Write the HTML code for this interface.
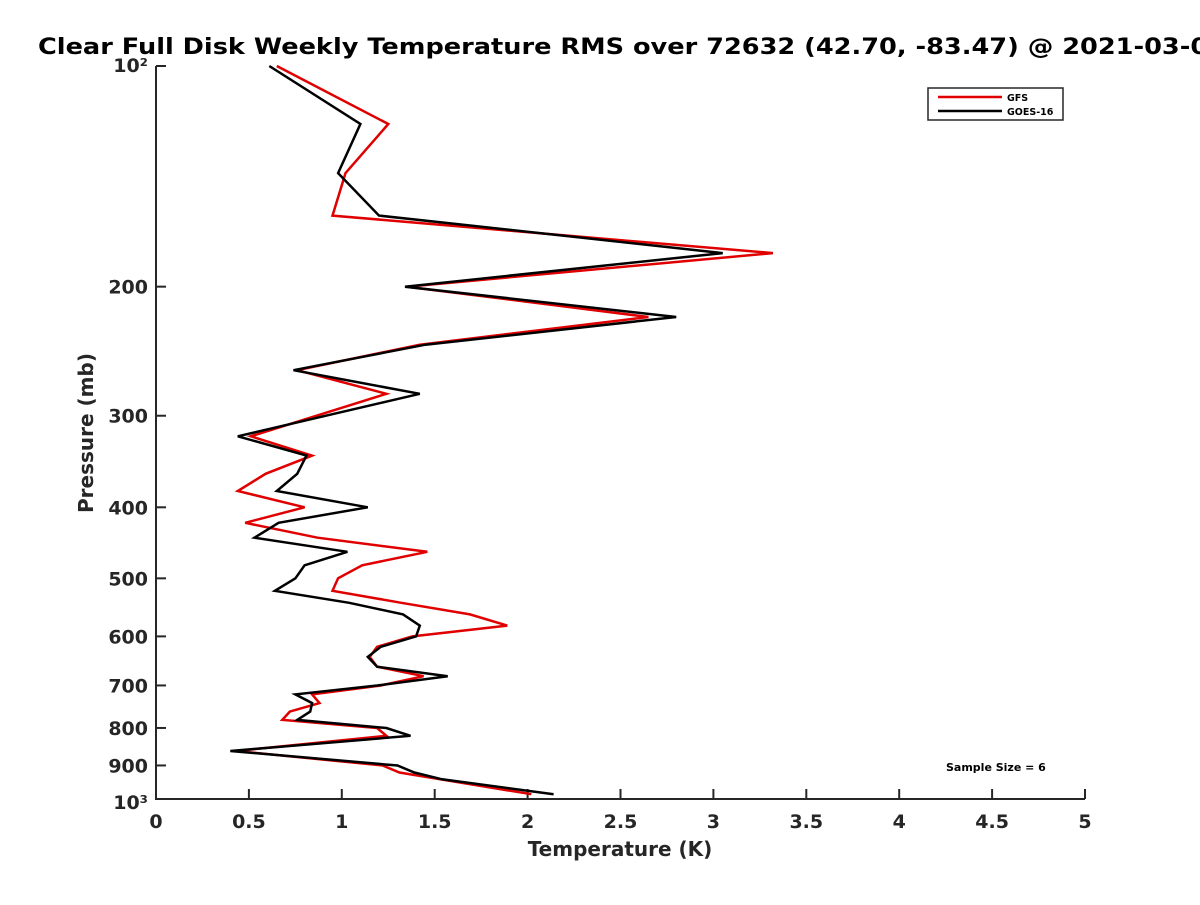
<!DOCTYPE html>
<html><head><meta charset="utf-8"><style>
body{margin:0;background:#fff;}
svg text{font-family:"DejaVu Sans","Liberation Sans",sans-serif;font-weight:bold;fill:#262626;}
</style></head><body>
<svg id="chart" width="1200" height="900" xmlns="http://www.w3.org/2000/svg">
<rect width="1200" height="900" fill="#fff"/>
<text x="38" y="54" font-size="22" textLength="1188" lengthAdjust="spacingAndGlyphs" style="fill:#000">Clear Full Disk Weekly Temperature RMS over 72632 (42.70, -83.47) @ 2021-03-02</text>
<g id="axes"></g>
<g id="series"></g>
<g>
<rect x="928" y="88" width="135" height="32" fill="#fff" stroke="#262626" stroke-width="1.5"/>
<line x1="938" y1="97" x2="1002" y2="97" stroke="#e00000" stroke-width="2.5"/>
<text x="1007" y="101" font-size="9.5" style="fill:#000">GFS</text>
<line x1="938" y1="111" x2="1002" y2="111" stroke="#000" stroke-width="2.5"/>
<text x="1007" y="115" font-size="9.5" style="fill:#000">GOES-16</text>
</g>
<text x="946" y="771" font-size="11" style="fill:#000">Sample Size = 6</text>
<text x="620" y="856" font-size="20" text-anchor="middle">Temperature (K)</text>
<text transform="translate(93,433) rotate(-90)" font-size="20" text-anchor="middle">Pressure (mb)</text>
</svg>
<script>
const pressures = [100,120,140,160,180,200,220,240,260,280,320,340,360,380,400,420,440,460,480,500,520,540,560,580,600,620,640,660,680,700,720,740,760,780,800,820,860,900,920,940,985];
const gfsTemps = [0.65,1.25,1.02,0.95,3.32,1.35,2.65,1.42,0.76,1.24,0.51,0.84,0.59,0.44,0.80,0.48,0.87,1.46,1.11,0.98,0.95,1.32,1.69,1.89,1.38,1.19,1.15,1.19,1.44,1.21,0.84,0.88,0.72,0.68,1.19,1.24,0.43,1.22,1.31,1.53,2.02];
const goesTemps = [0.61,1.10,0.98,1.20,3.05,1.34,2.80,1.45,0.74,1.42,0.44,0.81,0.76,0.65,1.14,0.66,0.53,1.03,0.80,0.75,0.64,1.04,1.33,1.42,1.40,1.21,1.14,1.19,1.57,1.19,0.75,0.84,0.83,0.76,1.24,1.37,0.40,1.30,1.39,1.54,2.14];
const xTicks = [0,0.5,1,1.5,2,2.5,3,3.5,4,4.5,5];
const xTickLabels = ["0","0.5","1","1.5","2","2.5","3","3.5","4","4.5","5"];
const yTicks = [100,200,300,400,500,600,700,800,900,1000];
const yTickLabels = ["10²","200","300","400","500","600","700","800","900","10³"];

const NS="http://www.w3.org/2000/svg";
const X0=156,X1=1085,Y0=66,Y1=799;
const xs=v=>X0+(v-0)/(5-0)*(X1-X0);
const ys=p=>Y0+(Math.log10(p)-2)*(Y1-Y0);
function mk(tag,attrs,parent){const e=document.createElementNS(NS,tag);for(const k in attrs)e.setAttribute(k,attrs[k]);parent.appendChild(e);return e;}
const axes=document.getElementById('axes');
const ax=mk('path',{d:`M${X0},${Y0}V${Y1}H${X1}`,fill:'none',stroke:'#262626','stroke-width':2},axes);


xTicks.forEach((t,i)=>{
  const x=xs(t);
  const l=mk('line',{x1:x,y1:Y1,x2:x,y2:Y1-10,stroke:'#262626','stroke-width':2},axes);
  
  
  const tx=mk('text',{x:x,y:Y1+29,'font-size':19,'text-anchor':'middle'},axes);
  
  
  tx.textContent=xTickLabels[i];
});
yTicks.forEach((t,i)=>{
  const y=ys(t);
  const l=mk('line',{x1:X0,y1:y,x2:X0+10,y2:y,stroke:'#262626','stroke-width':2},axes);
  
  
  const tx=mk('text',{x:X0-8,y:y+(i==0?6:i==yTicks.length-1?10:7),'font-size':19,'text-anchor':'end'},axes);
  
  
  tx.textContent=yTickLabels[i];
});
const ser=document.getElementById('series');
function line(vals,color,name){
  const d=vals.map((v,i)=>(i?'L':'M')+xs(v).toFixed(1)+','+ys(pressures[i]).toFixed(1)).join('');
  const p=mk('path',{d:d,fill:'none',stroke:color,'stroke-width':2.5,'stroke-linejoin':'miter'},ser);
  
  
}
line(gfsTemps,'#e00000','gfs-line');
line(goesTemps,'#000000','goes16-line');
</script>
</body></html>
